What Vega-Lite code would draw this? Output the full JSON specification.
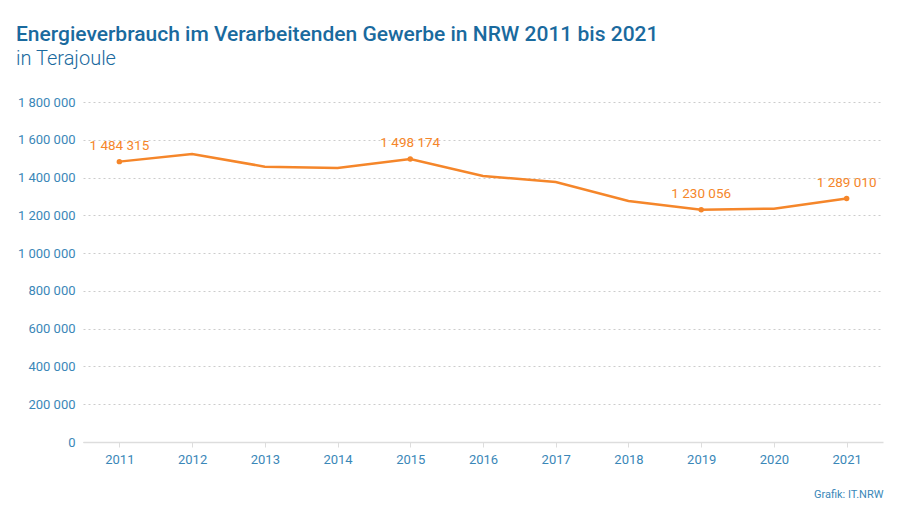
{
  "$schema": "https://vega.github.io/schema/vega-lite/v6.json",
  "width": 800,
  "height": 340,
  "autosize": {"type": "none"},
  "padding": {"left": 83, "top": 102, "right": 17, "bottom": 64},
  "background": "white",
  "config": {
    "locale": {"number": {"decimal": ",", "thousands": " ", "grouping": [3], "currency": ["", " €"]}},
    "view": {"stroke": null},
    "font": "Roboto"
  },
  "title": {
    "text": "Energieverbrauch im Verarbeitenden Gewerbe in NRW 2011 bis 2021",
    "subtitle": "in Terajoule",
    "anchor": "start",
    "frame": "group",
    "dx": -67,
    "offset": 27,
    "font": "Roboto",
    "fontSize": 21,
    "fontWeight": 500,
    "color": "#1a6a9e",
    "subtitleFont": "Roboto",
    "subtitleFontSize": 20,
    "subtitleFontWeight": 300,
    "subtitleColor": "#1a6a9e",
    "subtitlePadding": 4
  },
  "data": {
    "values": [
      {"Jahr": "2011", "Wert": 1484315, "Label": true},
      {"Jahr": "2012", "Wert": 1525000, "Label": false},
      {"Jahr": "2013", "Wert": 1457600, "Label": false},
      {"Jahr": "2014", "Wert": 1450600, "Label": false},
      {"Jahr": "2015", "Wert": 1498174, "Label": true},
      {"Jahr": "2016", "Wert": 1408200, "Label": false},
      {"Jahr": "2017", "Wert": 1376500, "Label": false},
      {"Jahr": "2018", "Wert": 1275900, "Label": false},
      {"Jahr": "2019", "Wert": 1230056, "Label": true},
      {"Jahr": "2020", "Wert": 1235300, "Label": false},
      {"Jahr": "2021", "Wert": 1289010, "Label": true}
    ]
  },
  "encoding": {
    "x": {
      "field": "Jahr",
      "type": "ordinal",
      "scale": {"type": "point", "padding": 0.5},
      "axis": {
        "title": "Grafik: IT.NRW",
        "titleAnchor": "end",
        "titleAlign": "right",
        "titleFont": "Roboto",
        "titleFontSize": 11,
        "titleFontWeight": "normal",
        "titleColor": "#3a87b8",
        "titlePadding": 22,
        "labelAngle": 0,
        "labelFont": "Roboto",
        "labelFontSize": 13,
        "labelColor": "#3a87b8",
        "labelPadding": 6,
        "domainColor": "#dddddd",
        "domainWidth": 1.5,
        "tickColor": "#dddddd",
        "tickSize": 5,
        "grid": false
      }
    },
    "y": {
      "field": "Wert",
      "type": "quantitative",
      "scale": {"domain": [0, 1800000]},
      "axis": {
        "title": null,
        "values": [0, 200000, 400000, 600000, 800000, 1000000, 1200000, 1400000, 1600000, 1800000],
        "format": ",d",
        "labelFont": "Roboto",
        "labelFontSize": 13,
        "labelColor": "#3a87b8",
        "labelPadding": 8,
        "domain": false,
        "ticks": false,
        "grid": true,
        "gridColor": "#cccccc",
        "gridDash": [2, 3],
        "gridWidth": 1
      }
    }
  },
  "layer": [
    {
      "mark": {"type": "line", "color": "#f5862a", "strokeWidth": 2.5}
    },
    {
      "transform": [{"filter": "datum.Label"}],
      "mark": {"type": "point", "filled": true, "color": "#f5862a", "size": 30, "opacity": 1}
    },
    {
      "transform": [{"filter": "datum.Label"}],
      "mark": {"type": "text", "color": "#f5862a", "dy": -16, "fontSize": 13.5, "font": "Roboto"},
      "encoding": {"text": {"field": "Wert", "type": "quantitative", "format": ",d"}}
    }
  ]
}
